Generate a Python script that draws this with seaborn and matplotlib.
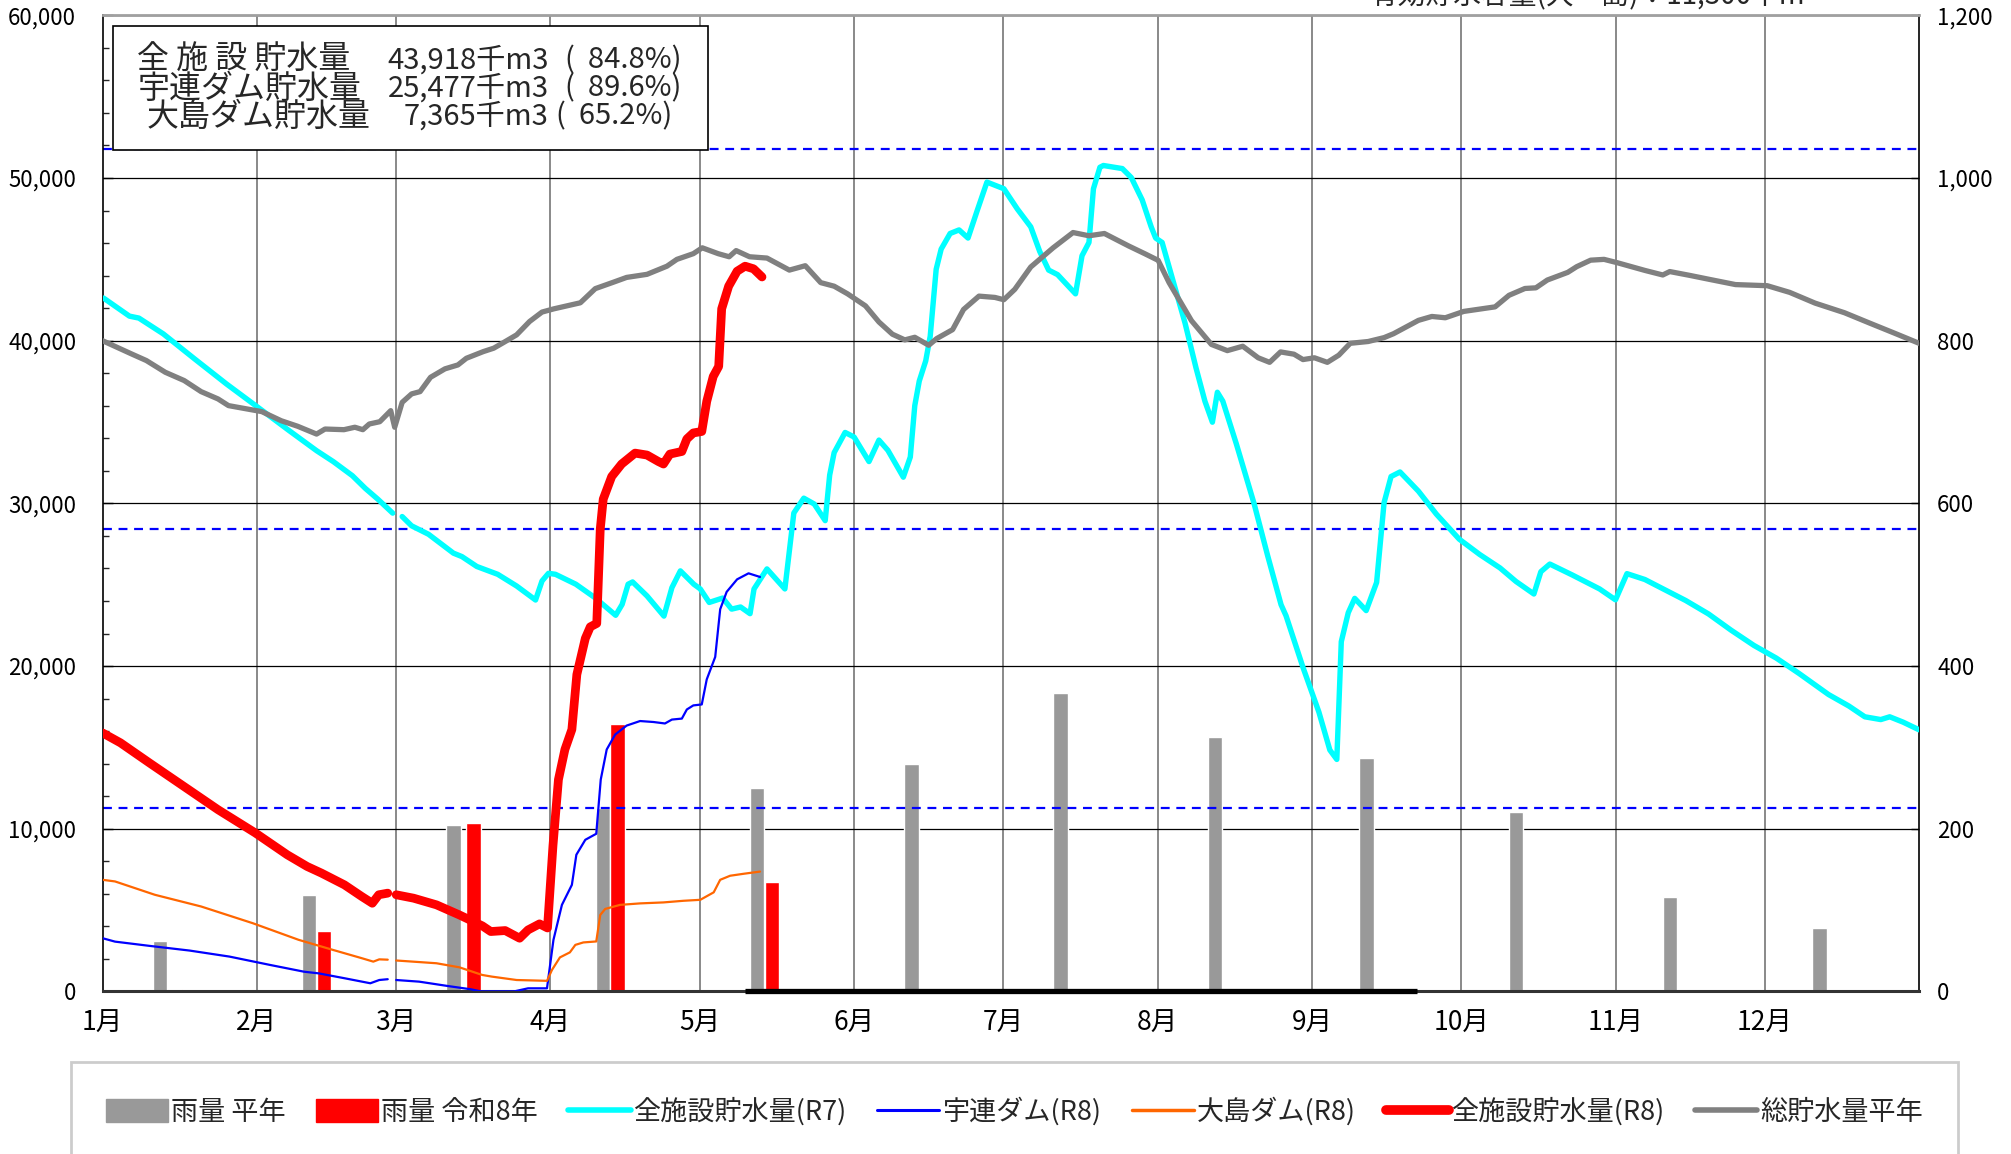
import matplotlib
matplotlib.use('Agg')
import numpy as np
import matplotlib.pyplot as plt
from matplotlib.lines import Line2D
from matplotlib.patches import Patch, Rectangle
from matplotlib.ticker import FuncFormatter, MultipleLocator
import seaborn as sns

nan = np.nan

# x axis: day of year (0 = 1月1日)
month_start = [0, 31, 59, 90, 120, 151, 181, 212, 243, 273, 304, 334]
month_labels = [f'{m}月' for m in range(1, 13)]

# monthly rainfall (mm)
rain_avg_day = [11.5, 41.5, 70.5, 100.5, 131.5, 162.5, 192.5, 223.5, 254, 284, 315, 345]
rain_avg = [62, 119, 205, 225, 250, 279, 367, 313, 287, 220, 116, 78]
rain_r8_day = [14.5, 44.5, 74.5, 103.5, 134.5]
rain_r8 = [3, 74, 207, 329, 135]

# effective capacities (千m3)
cap_all = 51790
cap_uren = 28434
cap_oshima = 11300

# 総貯水量平年
avg_day = [0, 5.8, 8.8, 12.6, 16.4, 19.8, 23.2, 25.3, 29.1, 32, 35.9, 39.2, 43, 44.7, 48.5,
           50.7, 52.3, 53.6, 55.7, 57.9, 58.7, 60.2, 62.1, 63.8, 65.9, 68.8, 71.4, 73.1, 76.5,
           78.6, 80.7, 83.2, 85.8, 88.3, 90.7, 96, 99, 102.5, 105.3, 109.4, 113.4, 115.4,
           118.7, 120.5, 123.7, 125.9, 127.3, 130, 133.5, 138, 141.2, 144.3, 147, 149.7,
           153.3, 156, 158.7, 161.2, 163.2, 166, 167.6, 170.8, 173, 176.1, 179.3, 181.1,
           183.3, 186.5, 191, 195, 198.2, 201.3, 206.2, 209.4, 212.1, 214.3, 218.8, 222.8,
           226, 229.1, 232.2, 234.5, 236.7, 239.4, 241.2, 243.5, 246.1, 248.4, 250.7, 254.3,
           257.5, 259.4, 264.4, 267.1, 269.8, 273.5, 279.8, 282.6, 285.8, 288, 290.3, 294.4,
           296.2, 299, 301.7, 304.4, 309.9, 313.5, 314.9, 319, 322.7, 328.1, 334.5, 339,
           344.1, 350, 355, 360, 365]
avg_storage = [40000, 39190, 38780, 38060, 37550, 36870, 36420, 36010, 35800, 35640, 35080,
               34740, 34260, 34570, 34530, 34680, 34530, 34880, 35020, 35700, 34680, 36210,
               36730, 36870, 37750, 38270, 38510, 38920, 39330, 39540, 39910, 40360, 41180,
               41760, 41960, 42330, 43200, 43580, 43890, 44080, 44580, 45000, 45350, 45710,
               45350, 45160, 45540, 45160, 45080, 44340, 44610, 43570, 43350, 42880, 42140,
               41150, 40400, 40050, 40210, 39720, 40130, 40680, 41920, 42740, 42660, 42520,
               43160, 44530, 45710, 46650, 46450, 46590, 45820, 45350, 44940, 43570, 41230,
               39770, 39390, 39660, 38950, 38670, 39310, 39170, 38840, 38950, 38670, 39110,
               39840, 39950, 40190, 40430, 41250, 41490, 41410, 41800, 42080, 42790, 43210,
               43250, 43730, 44200, 44550, 44950, 45000, 44790, 44320, 44040, 44250, 44010,
               43780, 43450, 43380, 42970, 42310, 41720, 41090, 40470, 39840]

# 全施設貯水量(R7)
r7_day = [0.2, 5.4, 7.3, 12.2, 18.5, 24.9, 31.2, 37.5, 43, 46.4, 50.2, 52.8, 55.3, 58.3, 59,
          60.2, 62.1, 65.5, 70.5, 72.2, 75.2, 79.4, 83.2, 87, 88.3, 89.6, 91, 95.1, 98.9,
          103.1, 104.4, 105.6, 106.5, 109.4, 112.8, 114.4, 116.1, 118.8, 120.1, 121.9, 124.6,
          126.4, 128.2, 130.1, 130.9, 133.5, 137.1, 138.9, 140.9, 143, 145.2, 146.1, 147,
          149.2, 151, 154, 156, 157.8, 160.9, 162.3, 163.2, 164.1, 165.4, 166.3, 167.5,
          168.5, 170.3, 172.1, 173.9, 175.7, 177.7, 181.1, 183.8, 186.5, 188.3, 190.1,
          191.9, 195.5, 196.8, 198.2, 199.1, 200.4, 201.1, 204.9, 206.7, 208.9, 210.7,
          211.6, 212.9, 215.2, 217.5, 219.7, 221.5, 223, 224, 225.1, 227.8, 231.4, 234.1,
          236.8, 237.8, 241.2, 244.4, 246.6, 248, 248.9, 250.3, 251.6, 253.9, 256, 257.5,
          258.9, 260.7, 264.4, 268, 272.6, 276.7, 280.8, 284, 287.6, 289, 290.8, 295.3,
          300.8, 304, 306.3, 309.9, 313.6, 318.1, 322.7, 327.2, 331.8, 336.3, 340.9, 346.8,
          350.9, 354.1, 357.3, 359.1, 361.8, 365]
r7_storage = [42620, 41510, 41390, 40420, 38880, 37340, 35910, 34470, 33240, 32560, 31700,
              30920, 30260, 29400, nan, 29190, 28620, 28100, 26940, 26730, 26120, 25640,
              24920, 24060, 25230, 25700, 25640, 25030, 24210, 23120, 23790, 25030, 25170,
              24310, 23070, 24820, 25850, 25030, 24740, 23910, 24180, 23500, 23630, 23220,
              24740, 25970, 24740, 29410, 30320, 29960, 28940, 31740, 33120, 34360, 34080,
              32570, 33890, 33260, 31610, 32850, 36010, 37520, 38760, 40270, 44390, 45630,
              46590, 46810, 46310, 47960, 49750, 49340, 48100, 47000, 45490, 44340, 44060,
              42880, 45220, 46040, 49340, 50660, 50770, 50580, 50030, 48650, 47000, 46310,
              46040, 43570, 41090, 38340, 36280, 34990, 36830, 36280, 33670, 29960, 26790,
              23770, 23090, 19920, 17170, 14840, 14260, 21500, 23280, 24160, 23410, 25140,
              30050, 31650, 31930, 30750, 29340, 27800, 26860, 26030, 25200, 24430, 25800,
              26270, 25600, 24740, 24070, 25680, 25320, 24740, 24030, 23200, 22210, 21270,
              20490, 19540, 18250, 17540, 16880, 16710, 16880, 16550, 16080]

# 全施設貯水量(R8)
r8_day = [0, 3.6, 9.4, 16.3, 23.2, 30.7, 37.1, 41.1, 44, 48.6, 52.1, 54.2, 55.5, 57.3, 58,
          59, 62.5, 67.1, 71.7, 76.3, 78, 80.9, 83.8, 85.5, 87.8, 89.4, 90.5, 91.6, 92.9,
          94.3, 95.3, 97, 98, 99.3, 100, 100.6, 102.3, 104.3, 107, 109.4, 111.7, 112.7, 114,
          116.4, 117.4, 118.7, 120.4, 121.4, 122.7, 123.8, 124.4, 125.8, 127.5, 129.1,
          130.8, 132.5]
r8_storage = [15890, 15280, 14050, 12610, 11170, 9740, 8400, 7680, 7270, 6550, 5830, 5420,
              5940, 6040, nan, 5940, 5730, 5320, 4700, 4030, 3680, 3740, 3270, 3780, 4150,
              3900, 8950, 13020, 14870, 16100, 19480, 21700, 22410, 22620, 28410, 30260,
              31650, 32420, 33090, 32970, 32570, 32420, 33030, 33190, 33960, 34330, 34420,
              36270, 37800, 38420, 41960, 43350, 44270, 44580, 44420, 43918]

# 宇連ダム(R8)
uren_day = [0, 2.5, 9.4, 17.5, 25.5, 33.6, 40.5, 43.4, 48.6, 53.8, 55.6, 57.3, 58, 59, 63.6,
            69.4, 74, 76, 82.7, 85.5, 89.3, 90.6, 92.3, 94.3, 95.2, 97, 99.2, 100.1, 101.3,
            103, 105.3, 108, 110.7, 113, 114.4, 116.4, 117.4, 118.7, 120.4, 121.4, 123.1,
            124.1, 125.4, 127.5, 129.8, 132.1]
uren_storage = [3270, 3060, 2800, 2510, 2140, 1630, 1210, 1110, 810, 500, 700, 750, nan, 700,
                600, 330, 130, 0, 0, 190, 190, 3170, 5320, 6550, 8400, 9320, 9690, 13020,
                14870, 15790, 16340, 16620, 16560, 16470, 16710, 16770, 17330, 17580, 17640,
                19180, 20560, 23490, 24560, 25330, 25700, 25477]

# 大島ダム(R8)
oshima_day = [0, 2.5, 10.5, 19.8, 30.2, 39.4, 46.3, 52.1, 54.4, 55.6, 57.3, 58, 59, 67.1,
              71.7, 76.3, 78.2, 83.2, 89.3, 90.3, 91.9, 93.9, 95, 96.6, 99.2, 100, 101, 104,
              108, 112.7, 116.7, 120.1, 122.8, 124.1, 126.1, 128.8, 132.1]
oshima_storage = [6860, 6760, 5940, 5220, 4190, 3170, 2550, 2040, 1830, 1970, 1950, nan, 1900,
                  1730, 1480, 1010, 910, 700, 650, 1320, 2090, 2400, 2860, 3010, 3070, 4700,
                  5070, 5320, 5410, 5470, 5570, 5630, 6090, 6860, 7110, 7230, 7365]

# period marked on the zero line
mark_period = [129, 264.2]

info_rows = [('全 施 設 貯水量', '43,918千m3', '(  84.8%)'),
             ('宇連ダム貯水量', '25,477千m3', '(  89.6%)'),
             ('大島ダム貯水量', '7,365千m3', '(  65.2%)')]
header_text = '有効貯水容量(大　島)：11,300千m³'

sns.set_theme(style='white')
plt.rcParams['font.family'] = ['Noto Sans CJK JP', 'DejaVu Sans']
plt.rcParams['axes.unicode_minus'] = False

fig = plt.figure(figsize=(20.11, 11.54), dpi=100)
fig.patch.set_facecolor('white')
ax = fig.add_axes([0.051, 0.1409, 0.9033, 0.8458])
ax2 = ax.twinx()
ax.set_zorder(ax2.get_zorder() + 1)
ax.patch.set_visible(False)

# rain bars and grid on the right axis (drawn underneath)
ax2.set_axisbelow(True)
ax2.yaxis.grid(True, color='black', lw=0.9)
for d in month_start[1:]:
    ax2.axvline(d, color='#808080', lw=1.3, zorder=0.5)
ax2.bar(rain_avg_day, rain_avg, width=2.9, color='#999999', zorder=2)
ax2.bar(rain_r8_day, rain_r8, width=2.9, color='#ff0000', zorder=2)
ax2.set_ylim(0, 1200)
ax2.yaxis.set_major_locator(MultipleLocator(200))
ax2.yaxis.set_major_formatter(FuncFormatter(lambda v, p: f'{v:,.0f}'))
ax2.tick_params(axis='y', direction='in', length=6, width=1, pad=13, labelsize=16,
                colors='black', right=True)

# storage lines on the left axis
for cap in [cap_all, cap_uren, cap_oshima]:
    ax.axhline(cap, color='#0000ff', lw=1.6, ls=(0, (4, 3)), zorder=2)
ax.plot(r7_day, r7_storage, color='#00ffff', lw=3.9, solid_capstyle='round', zorder=3)
ax.plot(uren_day, uren_storage, color='#0000ff', lw=1.6, zorder=4)
ax.plot(oshima_day, oshima_storage, color='#ff6600', lw=1.6, zorder=4)
ax.plot(r8_day, r8_storage, color='#ff0000', lw=6.3, solid_capstyle='round', zorder=5)
sns.lineplot(x=avg_day, y=avg_storage, ax=ax, color='#808080', lw=3.8, estimator=None,
             sort=False, legend=False, zorder=6)
ax.plot(mark_period, [0, 0], color='black', lw=3.8, solid_capstyle='butt', clip_on=False,
        zorder=7)

ax.set_xlim(0, 365)
ax.set_ylim(0, 60000)
ax.set_xlabel('')
ax.set_ylabel('')
ax.yaxis.set_major_locator(MultipleLocator(10000))
ax.yaxis.set_minor_locator(MultipleLocator(2000))
ax.yaxis.set_major_formatter(FuncFormatter(lambda v, p: f'{v:,.0f}'))
ax.tick_params(axis='y', which='major', direction='in', length=7, width=1, pad=19,
               labelsize=16, colors='black', left=True)
ax.tick_params(axis='y', which='minor', direction='in', length=4, width=1, left=True)
ax.set_xticks(month_start)
ax.set_xticklabels(month_labels)
ax.tick_params(axis='x', length=0, pad=13, labelsize=19, colors='black')

for s in ['left', 'right', 'top', 'bottom']:
    ax2.spines[s].set_visible(False)
ax.spines['left'].set_color('black')
ax.spines['left'].set_linewidth(1.2)
ax.spines['right'].set_color('black')
ax.spines['right'].set_linewidth(1.2)
ax.spines['top'].set_color('#a0a0a0')
ax.spines['top'].set_linewidth(2)
ax.spines['bottom'].set_color('#333333')
ax.spines['bottom'].set_linewidth(2.2)

# info box
W, H = 1568, 900
fig.add_artist(Rectangle((88 / W, 1 - 117 / H), (552 - 88) / W, (117 - 20) / H,
                         transform=fig.transFigure, facecolor='white', edgecolor='black',
                         lw=1.2, zorder=10))
row_y = [47, 69, 91]
label_x = [107, 107, 114]
val_x = [428, 428, 428]
pct_x = [531, 531, 524]
for (lab, val, pct), y, lx, vx, px in zip(info_rows, row_y, label_x, val_x, pct_x):
    fig.text(lx / W, 1 - y / H, lab, fontsize=23, ha='left', va='center', zorder=11)
    fig.text(vx / W, 1 - y / H, val, fontsize=21, ha='right', va='center', zorder=11)
    fig.text(px / W, 1 - y / H, pct, fontsize=21, ha='right', va='center', zorder=11)

fig.text(1242 / W, 1 + 4 / H, header_text, fontsize=20, ha='center', va='center')

# legend
handles = [Patch(facecolor='#999999', edgecolor='#999999', label='雨量 平年'),
           Patch(facecolor='#ff0000', edgecolor='#ff0000', label='雨量 令和8年'),
           Line2D([], [], color='#00ffff', lw=4, label='全施設貯水量(R7)'),
           Line2D([], [], color='#0000ff', lw=2.2, label='宇連ダム(R8)'),
           Line2D([], [], color='#ff6600', lw=2.5, label='大島ダム(R8)'),
           Line2D([], [], color='#ff0000', lw=7, solid_capstyle='round', label='全施設貯水量(R8)'),
           Line2D([], [], color='#808080', lw=4, label='総貯水量平年')]
leg = fig.legend(handles=handles, loc='upper left',
                 bbox_to_anchor=(70.5 / 2011, 1 - 1062 / 1154, (1958 - 70.5) / 2011, 0),
                 mode='expand', ncol=7, fontsize=19.5, frameon=True, fancybox=False,
                 edgecolor='#c0c0c0', borderpad=1.3, handlelength=2.3, handleheight=0.9,
                 handletextpad=0.1, borderaxespad=0)
leg.get_frame().set_linewidth(2)

fig.savefig('out.png', dpi=100)
